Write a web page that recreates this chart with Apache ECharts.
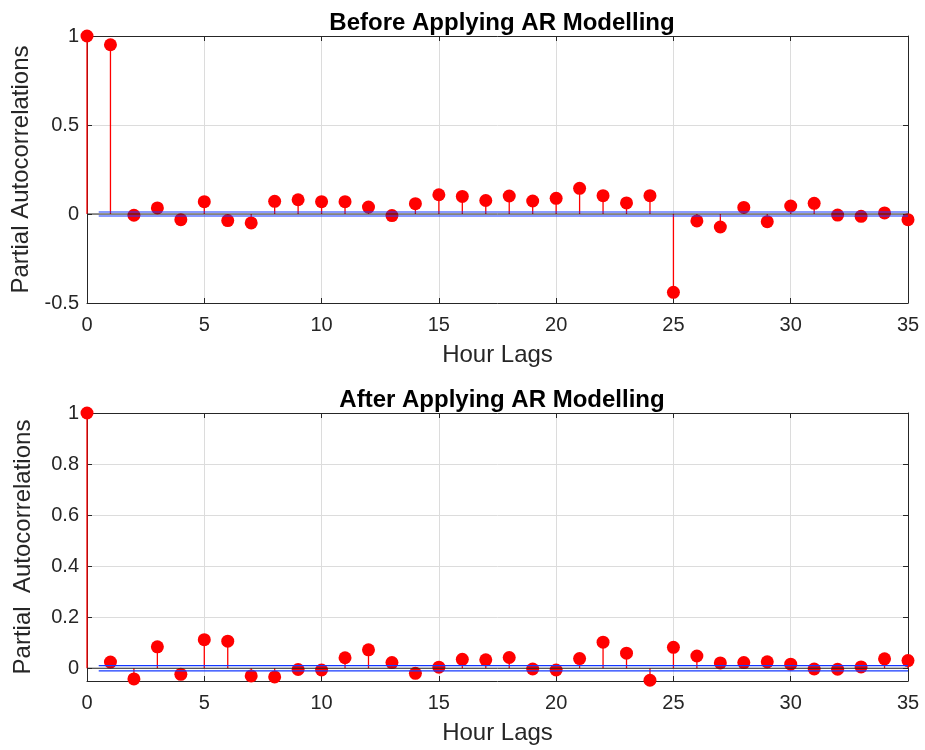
<!DOCTYPE html>
<html>
<head>
<meta charset="UTF-8">
<script src="https://cdn.jsdelivr.net/npm/echarts@6/dist/echarts.min.js"></script>
<style>
  html, body { margin: 0; padding: 0; background: #fff; }
  #chart { width: 925px; height: 750px; }
</style>
</head>
<body>
<div id="chart"></div>
<script>
// lags 0..35
var lags = [];
for (var i = 0; i <= 35; i++) lags.push(i);

// partial autocorrelations before AR modelling
var pacfBefore = [1, 0.951, -0.007, 0.034, -0.032, 0.069, -0.037, -0.050, 0.071, 0.080,
  0.069, 0.069, 0.039, -0.009, 0.058, 0.108, 0.099, 0.076, 0.101, 0.073,
  0.088, 0.144, 0.103, 0.062, 0.103, -0.440, -0.039, -0.073, 0.037, -0.043,
  0.045, 0.060, -0.006, -0.013, 0.006, -0.032];

// partial autocorrelations after AR modelling
var pacfAfter = [1, 0.024, -0.042, 0.084, -0.024, 0.112, 0.106, -0.030, -0.034, -0.005,
  -0.007, 0.041, 0.072, 0.022, -0.020, 0.004, 0.035, 0.033, 0.042, -0.003,
  -0.007, 0.038, 0.102, 0.059, -0.047, 0.082, 0.048, 0.021, 0.022, 0.025,
  0.016, -0.003, -0.004, 0.005, 0.037, 0.030];

// confidence bounds (+/-) and where they start / end on the lag axis
var boundBefore = 0.0112;
var boundAfter = 0.0105;
var boundLags = [0.5, 35];

var xTicks = [0, 5, 10, 15, 20, 25, 30, 35];
var yTicksBefore = [-0.5, 0, 0.5, 1];
var yTicksAfter = [0, 0.2, 0.4, 0.6, 0.8, 1];

var txt = '#262626';
var font = 'Liberation Sans, Arial, sans-serif';

function pairs(ys) {
  return lags.map(function(l, k) { return [l, ys[k]]; });
}

function stemItem(params, api) {
  var p0 = api.coord([api.value(0), 0]);
  var p1 = api.coord([api.value(0), api.value(1)]);
  return {
    type: 'line',
    shape: { x1: p0[0], y1: p0[1], x2: p1[0], y2: p1[1] },
    style: { stroke: '#ff0000', lineWidth: 1.3 }
  };
}

function xAx(grid, pos, show) {
  return {
    type: 'value', gridIndex: grid, position: pos, min: 0, max: 35,
    name: show ? 'Hour Lags' : '', nameLocation: 'middle', nameGap: 40,
    nameTextStyle: { color: txt, fontSize: 24, fontFamily: font },
    axisLine: { show: true, onZero: false, lineStyle: { color: txt, width: 1 } },
    axisTick: { show: true, inside: true, length: 5, customValues: xTicks, lineStyle: { color: txt } },
    axisLabel: { show: show, customValues: xTicks, color: txt, fontSize: 20, fontFamily: font, margin: 12 },
    splitLine: { show: show, lineStyle: { color: '#dcdcdc', width: 1 } }
  };
}

function yAx(grid, pos, show, min, max, ticks, name) {
  return {
    type: 'value', gridIndex: grid, position: pos, min: min, max: max,
    name: show ? name : '', nameLocation: 'middle', nameGap: 52,
    nameTextStyle: { color: txt, fontSize: 24, fontFamily: font, width: 400, overflow: 'none' },
    axisLine: { show: true, onZero: false, lineStyle: { color: txt, width: 1 } },
    axisTick: { show: true, inside: true, length: 5, customValues: ticks, lineStyle: { color: txt } },
    axisLabel: { show: show, customValues: ticks, color: txt, fontSize: 20, fontFamily: font, margin: 8 },
    splitLine: { show: show, lineStyle: { color: '#dcdcdc', width: 1 } }
  };
}

function panelSeries(grid, ys, bound) {
  var xi = grid * 2, yi = grid * 2;
  return [
    { type: 'custom', xAxisIndex: xi, yAxisIndex: yi, renderItem: stemItem,
      data: pairs(ys), clip: false, z: 2, silent: true },
    { type: 'scatter', xAxisIndex: xi, yAxisIndex: yi, data: pairs(ys),
      symbol: 'circle', symbolSize: 13, itemStyle: { color: '#ff0000', opacity: 1 },
      clip: false, z: 3, silent: true },
    // stem baseline
    { type: 'line', xAxisIndex: xi, yAxisIndex: yi, data: [[0, 0], [35, 0]],
      symbol: 'none', lineStyle: { color: '#262626', width: 1 }, z: 4, silent: true },
    // bounds
    { type: 'line', xAxisIndex: xi, yAxisIndex: yi,
      data: boundLags.map(function(l) { return [l, bound]; }),
      symbol: 'none', lineStyle: { color: '#1438ff', width: 1.2 }, z: 5, silent: true },
    { type: 'line', xAxisIndex: xi, yAxisIndex: yi,
      data: boundLags.map(function(l) { return [l, -bound]; }),
      symbol: 'none', lineStyle: { color: '#1438ff', width: 1.2 }, z: 5, silent: true }
  ];
}

var chart = echarts.init(document.getElementById('chart'));
chart.setOption({
  animation: false,
  backgroundColor: '#fff',
  title: [
    { text: 'Before Applying AR Modelling', left: 497, top: 6, textAlign: 'center',
      textStyle: { color: '#000', fontSize: 24, fontWeight: 'bold', fontFamily: font } },
    { text: 'After Applying AR Modelling', left: 497, top: 383, textAlign: 'center',
      textStyle: { color: '#000', fontSize: 24, fontWeight: 'bold', fontFamily: font } }
  ],
  grid: [
    { left: 87, right: 17, top: 36, height: 267 },
    { left: 87, right: 17, top: 413, height: 268 }
  ],
  xAxis: [xAx(0, 'bottom', true), xAx(0, 'top', false), xAx(1, 'bottom', true), xAx(1, 'top', false)],
  yAxis: [
    yAx(0, 'left', true, -0.5, 1, yTicksBefore, 'Partial Autocorrelations'),
    yAx(0, 'right', false, -0.5, 1, yTicksBefore, ''),
    yAx(1, 'left', true, -0.05, 1, yTicksAfter, 'Partial  Autocorrelations'),
    yAx(1, 'right', false, -0.05, 1, yTicksAfter, '')
  ],
  series: panelSeries(0, pacfBefore, boundBefore).concat(panelSeries(1, pacfAfter, boundAfter))
});
</script>
</body>
</html>
